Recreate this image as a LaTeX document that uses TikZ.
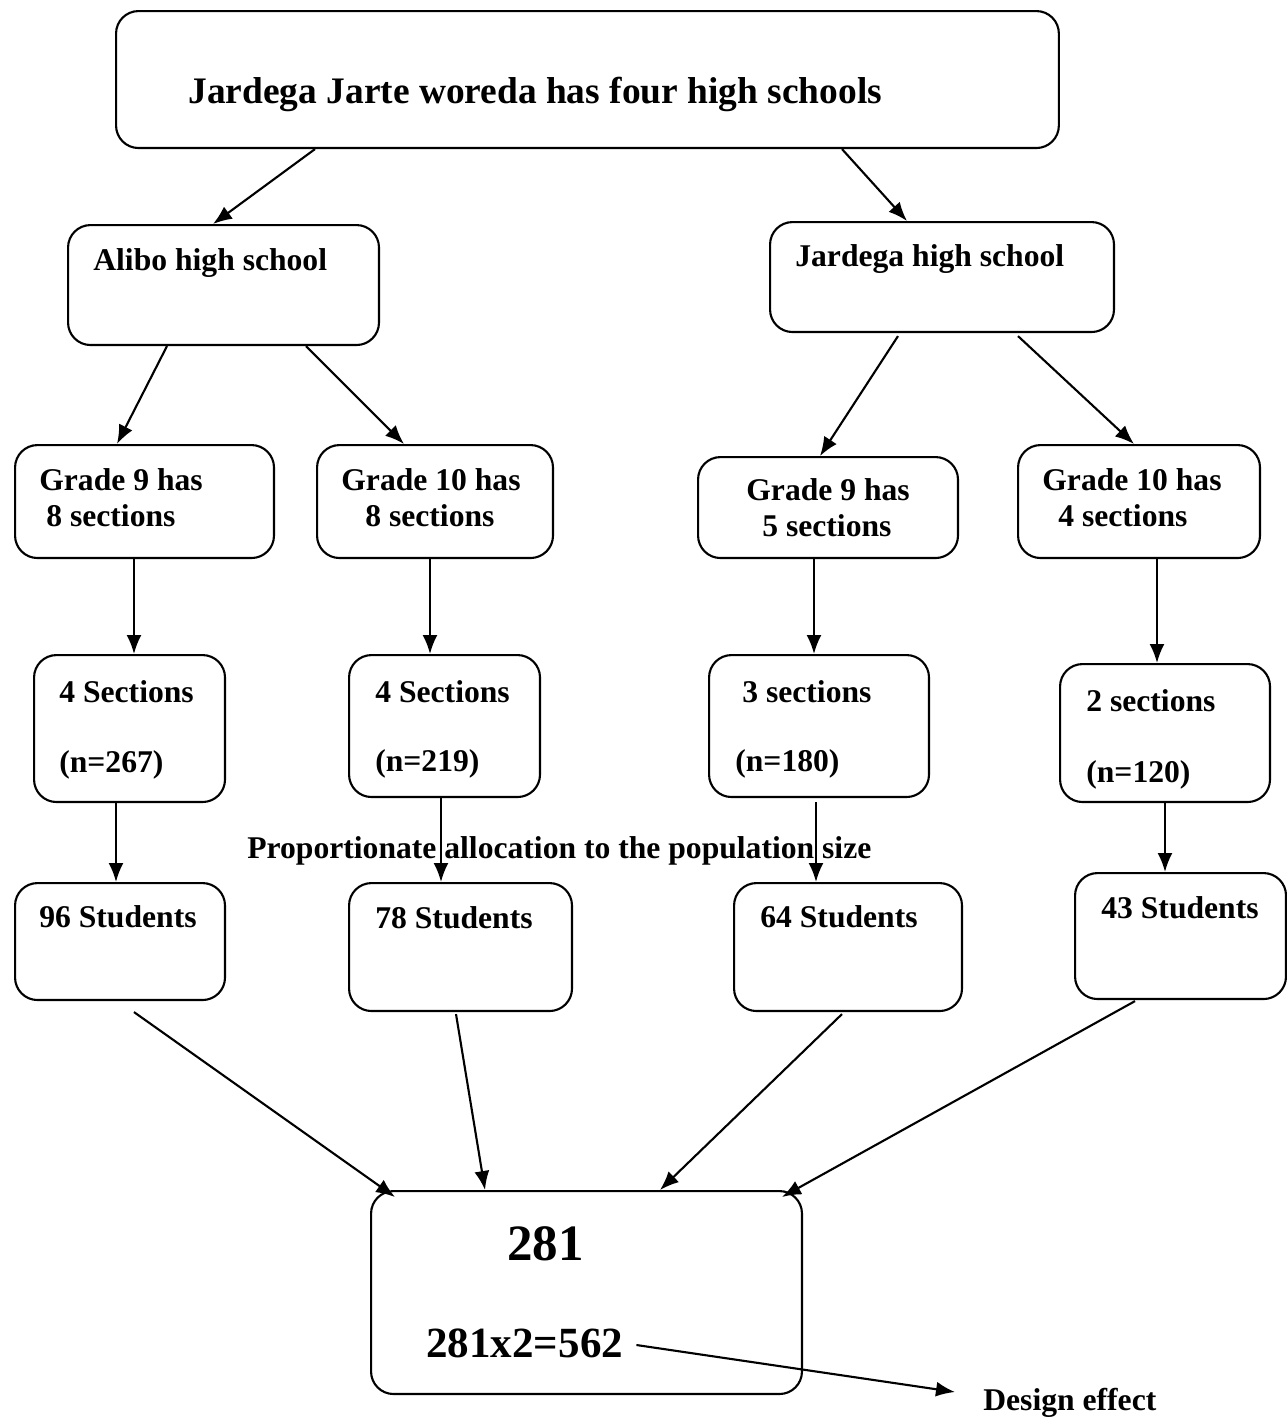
\documentclass[tikz,border=0pt]{standalone}
\usepackage{fontspec}
\setmainfont{Liberation Serif}
\usetikzlibrary{arrows.meta}
\tikzset{box/.style={draw,rounded corners=0.45cm,line width=1.2pt,anchor=north west,inner sep=0pt},
txt/.style={anchor=base west,inner sep=0pt,font=\bfseries\fontsize{18}{21}\selectfont},
arr/.style={line width=1.2pt,-{Latex[length=0.38cm,width=0.3cm]}}}
\begin{document}
\begin{tikzpicture}[x=0.02cm,y=-0.02cm]
\useasboundingbox (0,0) rectangle (1286,1420);
\node[box,minimum width=18.86cm,minimum height=2.74cm] (top) at (115,10){};
\node[txt,font=\bfseries\fontsize{21.3}{24}\selectfont] (toptxt) at (188,103){Jardega Jarte woreda has four high schools};
\node[box,minimum width=6.22cm,minimum height=2.40cm] (alibo) at (67,224){};\node[txt] (alibotxt) at (93,270){Alibo high school};
\node[box,minimum width=6.88cm,minimum height=2.20cm] (jard) at (769,221){};\node[txt] (jardtxt) at (795,266){Jardega high school};
\node[box,minimum width=5.18cm,minimum height=2.26cm] (gnineA) at (14,444){};
\node[txt] (gnineAa) at (39,490){Grade 9 has};\node[txt] (gnineAb) at (46,526){8 sections};
\node[box,minimum width=4.72cm,minimum height=2.26cm] (gtenA) at (316,444){};
\node[txt] (gtenAa) at (341,490){Grade 10 has};\node[txt] (gtenAb) at (365,526){8 sections};
\node[box,minimum width=5.20cm,minimum height=2.02cm] (gnineB) at (697,456){};
\node[txt] (gnineBa) at (746,500){Grade 9 has};\node[txt] (gnineBb) at (762,536){5 sections};
\node[box,minimum width=4.84cm,minimum height=2.26cm] (gtenB) at (1017,444){};
\node[txt] (gtenBa) at (1042,490){Grade 10 has};\node[txt] (gtenBb) at (1058,526){4 sections};
\node[box,minimum width=3.82cm,minimum height=2.94cm] (secA) at (33,654){};
\node[txt] (secAa) at (59,702){4 Sections};\node[txt] (secAb) at (59,772){(n=267)};
\node[box,minimum width=3.82cm,minimum height=2.84cm] (secB) at (348,654){};
\node[txt] (secBa) at (375,702){4 Sections};\node[txt] (secBb) at (375,771){(n=219)};
\node[box,minimum width=4.40cm,minimum height=2.84cm] (secC) at (708,654){};
\node[txt] (secCa) at (742,702){3 sections};\node[txt] (secCb) at (735,771){(n=180)};
\node[box,minimum width=4.20cm,minimum height=2.76cm] (secD) at (1059,663){};
\node[txt] (secDa) at (1086,711){2 sections};\node[txt] (secDb) at (1086,782){(n=120)};
\node[txt] (prop) at (247,858){Proportionate allocation to the population size};
\node[box,minimum width=4.20cm,minimum height=2.34cm] (stuA) at (14,882){};\node[txt] (stuAt) at (39,927){96 Students};
\node[box,minimum width=4.46cm,minimum height=2.56cm] (stuB) at (348,882){};\node[txt] (stuBt) at (375,928){78 Students};
\node[box,minimum width=4.56cm,minimum height=2.56cm] (stuC) at (733,882){};\node[txt] (stuCt) at (760,927){64 Students};
\node[box,minimum width=4.22cm,minimum height=2.52cm] (stuD) at (1074,872){};\node[txt] (stuDt) at (1101,918){43 Students};
\node[box,minimum width=8.62cm,minimum height=4.06cm] (total) at (370,1190){};
\node[txt,font=\bfseries\fontsize{29}{33}\selectfont] (tot) at (507,1260){281};
\node[txt,font=\bfseries\fontsize{24.5}{28}\selectfont] (eq) at (426,1357){281x2=562};
\node[txt] (deff) at (983,1410){Design effect};
\draw[arr]([shift={(200,0)}]top.south west)--([shift={(146,0)}]alibo.north west);
\draw[arr]([shift={(727,0)}]top.south west)--([shift={(138,0)}]jard.north west);
\draw[arr]([shift={(100,0)}]alibo.south west)--([shift={(103,0)}]gnineA.north west);
\draw[arr]([shift={(239,0)}]alibo.south west)--([shift={(88,0)}]gtenA.north west);
\draw[arr]([shift={(129,3)}]jard.south west)--([shift={(123,0)}]gnineB.north west);
\draw[arr]([shift={(249,3)}]jard.south west)--([shift={(117,0)}]gtenB.north west);
\draw[arr]([shift={(120,0)}]gnineA.south west)--([shift={(101,0)}]secA.north west);
\draw[arr]([shift={(114,0)}]gtenA.south west)--([shift={(82,0)}]secB.north west);
\draw[arr]([shift={(117,0)}]gnineB.south west)--([shift={(106,0)}]secC.north west);
\draw[arr]([shift={(140,0)}]gtenB.south west)--([shift={(98,0)}]secD.north west);
\draw[arr]([shift={(83,0)}]secA.south west)--([shift={(102,0)}]stuA.north west);
\draw[arr]([shift={(93,0)}]secB.south west)--([shift={(93,0)}]stuB.north west);
\draw[arr]([shift={(108,4)}]secC.south west)--([shift={(83,0)}]stuC.north west);
\draw[arr]([shift={(106,0)}]secD.south west)--([shift={(91,0)}]stuD.north west);
\draw[arr]([shift={(120,11)}]stuA.south west)--([shift={(25,7)}]total.north west);
\draw[arr]([shift={(108,2)}]stuB.south west)--([shift={(115,0)}]total.north west);
\draw[arr]([shift={(109,2)}]stuC.south west)--([shift={(290,0)}]total.north west);
\draw[arr]([shift={(61,1)}]stuD.south west)--([shift={(412,7)}]total.north west);
\draw[arr]([shift={(13,-12)}]eq.base east)--([shift={(-28,-18)}]deff.base west);
\end{tikzpicture}
\end{document}
